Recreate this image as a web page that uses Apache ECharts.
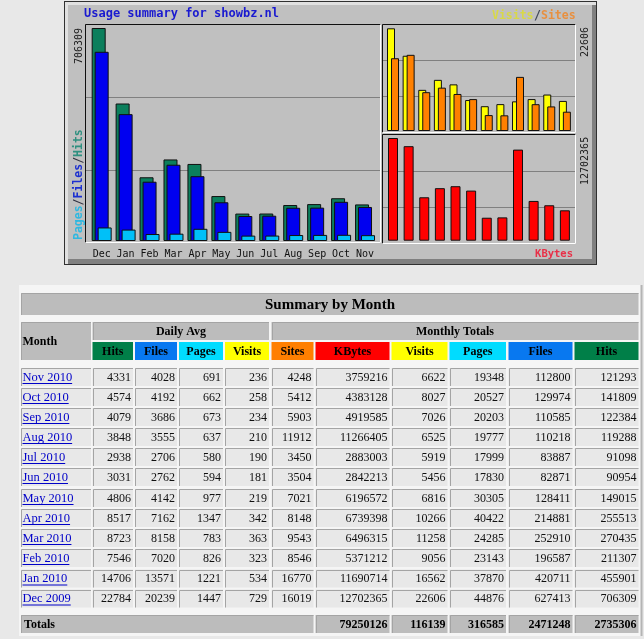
<!DOCTYPE html>
<html>
<head>
<meta charset="utf-8">
<title>Usage summary for showbz.nl</title>
<script src="https://cdn.jsdelivr.net/npm/echarts@6/dist/echarts.min.js"></script>
<style>
html, body { margin: 0; padding: 0; background: #e8e8e8; }
#main { width: 644px; height: 639px; }
</style>
</head>
<body>
<div id="main"></div>
<script>
// table rows, newest first, same order as the summary table
var months = ['Nov 2010', 'Oct 2010', 'Sep 2010', 'Aug 2010', 'Jul 2010', 'Jun 2010', 'May 2010', 'Apr 2010', 'Mar 2010', 'Feb 2010', 'Jan 2010', 'Dec 2009'];
var avgHits = [4331, 4574, 4079, 3848, 2938, 3031, 4806, 8517, 8723, 7546, 14706, 22784];
var avgFiles = [4028, 4192, 3686, 3555, 2706, 2762, 4142, 7162, 8158, 7020, 13571, 20239];
var avgPages = [691, 662, 673, 637, 580, 594, 977, 1347, 783, 826, 1221, 1447];
var avgVisits = [236, 258, 234, 210, 190, 181, 219, 342, 363, 323, 534, 729];
var sites = [4248, 5412, 5903, 11912, 3450, 3504, 7021, 8148, 9543, 8546, 16770, 16019];
var kbytes = [3759216, 4383128, 4919585, 11266405, 2883003, 2842213, 6196572, 6739398, 6496315, 5371212, 11690714, 12702365];
var visits = [6622, 8027, 7026, 6525, 5919, 5456, 6816, 10266, 11258, 9056, 16562, 22606];
var pages = [19348, 20527, 20203, 19777, 17999, 17830, 30305, 40422, 24285, 23143, 37870, 44876];
var files = [112800, 129974, 110585, 110218, 83887, 82871, 128411, 214881, 252910, 196587, 420711, 627413];
var hits = [121293, 141809, 122384, 119288, 91098, 90954, 149015, 255513, 270435, 211307, 455901, 706309];
var totals = [79250126, 116139, 316585, 2471248, 2735306];
var chartMonths = ['Dec', 'Jan', 'Feb', 'Mar', 'Apr', 'May', 'Jun', 'Jul', 'Aug', 'Sep', 'Oct', 'Nov'];

var MONO = '"DejaVu Sans Mono", monospace';
var SERIF = '"Liberation Serif", serif';
var graphics = [];

function rect(x, y, w, h, fill, z) {
    graphics.push({ type: 'rect', z: z || 0, silent: true, shape: { x: x, y: y, width: w, height: h }, style: { fill: fill } });
}
function line(x1, y1, x2, y2, color, width, z) {
    graphics.push({ type: 'line', z: z || 0, silent: true, shape: { x1: x1, y1: y1, x2: x2, y2: y2 }, style: { stroke: color, lineWidth: width || 1 } });
}
function text(str, x, y, font, color, align, z) {
    graphics.push({
        type: 'text', z: z || 1, silent: true, x: x, y: y,
        style: { text: str, font: font, fill: color, align: align || 'left', verticalAlign: 'middle' }
    });
}
// vertical chart text, reads bottom to top
function upText(str, x, y, color) {
    graphics.push({
        type: 'text', z: 5, silent: true, x: x, y: y, rotation: Math.PI / 2,
        style: { text: str, font: '10px ' + MONO, fill: color, align: 'left', verticalAlign: 'middle' }
    });
}
function upRich(x, y) {
    graphics.push({
        type: 'text', z: 5, silent: true, x: x, y: y, rotation: Math.PI / 2,
        style: {
            text: '{p|Pages}{s|/}{f|Files}{s|/}{h|Hits}',
            align: 'left', verticalAlign: 'middle',
            rich: {
                p: { font: 'bold 11.5px ' + MONO, fill: '#30b8e0' },
                s: { font: 'bold 11.5px ' + MONO, fill: '#303040' },
                f: { font: 'bold 11.5px ' + MONO, fill: '#1c30d0' },
                h: { font: 'bold 11.5px ' + MONO, fill: '#2f9080' }
            }
        }
    });
}

// outer picture frame
rect(64, 1, 533, 264, '#303030');
rect(65, 2, 531, 262, '#e0e0e0');
rect(68, 5, 528, 259, '#808080');
rect(68, 5, 524, 254, '#c0c0c0');

text('Usage summary for showbz.nl', 84, 14, 'bold 12px ' + MONO, '#1a1ad0');
text('Visits', 492, 16, 'bold 11.5px ' + MONO, '#d8d848');
text('/', 534, 16, 'bold 11.5px ' + MONO, '#404858');
text('Sites', 541, 16, 'bold 11.5px ' + MONO, '#e89040');
text('KBytes', 573, 254, 'bold 10.5px ' + MONO, '#e83048', 'right');
upText('706309', 79, 64, '#202020');
upRich(79, 240);
upText('22606', 585, 57, '#202020');
upText('12702365', 585, 185, '#202020');

// plot frames, black top/left and white bottom/right
function frame(x1, y1, x2, y2) {
    line(x1, y1, x2, y1, '#101010', 1, 4);
    line(x1, y1, x1, y2, '#101010', 1, 4);
    line(x1, y2, x2, y2, '#ffffff', 1, 4);
    line(x2, y1, x2, y2, '#ffffff', 1, 4);
}
frame(85.5, 24.5, 380.5, 242.5);
frame(382.5, 24.5, 575.5, 132.5);
frame(382.5, 134.5, 575.5, 243.5);

// summary table
var colEdges = [[21, 91], [92.5, 133], [135, 177], [179, 223], [225, 269], [271.5, 313.5], [315.5, 389.5], [391.5, 447.5], [449.5, 506], [508.5, 572.5], [574.5, 638.5]];
var headers = ['Hits', 'Files', 'Pages', 'Visits', 'Sites', 'KBytes', 'Visits', 'Pages', 'Files', 'Hits'];
var headerColors = ['#007f48', '#0878f0', '#00dcff', '#ffff00', '#ff7f00', '#ff0000', '#ffff00', '#00dcff', '#0878f0', '#007f48'];
var rowTops = [368, 388, 408, 428, 448, 468, 489, 509, 529, 549, 569.5, 589.5];
var GRAY = '#bcbcbc', CELL = '#e8e8e8';

function cell(x1, x2, y1, y2, fill) {
    rect(x1, y1, x2 - x1, y2 - y1, fill, 0);
    var px = Math.round(x1) + 0.5, py = Math.round(y1) + 0.5;
    line(px, py, x2, py, '#a4a4a4', 1, 0);
    line(px, py, px, y2, '#a4a4a4', 1, 0);
}

rect(19, 285, 622, 351, '#f5f5f5');
line(641.5, 285, 641.5, 636, '#b4b4b4', 2);
cell(21, 638.5, 293, 315, GRAY);
text('Summary by Month', 330, 305, 'bold 15px ' + SERIF, '#000', 'center');
cell(21, 91, 322, 360, GRAY);
text('Month', 22.5, 342, 'bold 12px ' + SERIF, '#000');
cell(92.5, 269, 322, 340, GRAY);
text('Daily Avg', 181, 332, 'bold 12px ' + SERIF, '#000', 'center');
cell(271.5, 638.5, 322, 340, GRAY);
text('Monthly Totals', 455, 332, 'bold 12px ' + SERIF, '#000', 'center');

headers.forEach(function(h, i) {
    var c = colEdges[i + 1];
    rect(c[0], 342, c[1] - c[0], 18, headerColors[i]);
    text(h, (c[0] + c[1]) / 2, 352, 'bold 12px ' + SERIF, '#000', 'center');
});

var columns = [avgHits, avgFiles, avgPages, avgVisits, sites, kbytes, visits, pages, files, hits];
var measure = document.createElement('canvas').getContext('2d');
measure.font = '12.5px ' + SERIF;

months.forEach(function(m, r) {
    var top = rowTops[r], bottom = top + 18;
    cell(21, 91, top, bottom, CELL);
    text(m, 22.5, top + 9.5, '12.5px ' + SERIF, '#0000c8');
    line(22.5, top + 15.5, 22.5 + measure.measureText(m).width, top + 15.5, '#0000c8', 1, 1);
    columns.forEach(function(col, i) {
        var c = colEdges[i + 1];
        cell(c[0], c[1], top, bottom, CELL);
        text(String(col[r]), c[1] - 2, top + 9.5, '12px ' + SERIF, '#101010', 'right');
    });
});

cell(21, 313.5, 615, 633, GRAY);
text('Totals', 24, 624.5, 'bold 12px ' + SERIF, '#000');
totals.forEach(function(t, i) {
    var c = colEdges[i + 6];
    cell(c[0], c[1], 615, 633, GRAY);
    text(String(t), c[1] - 2, 624.5, 'bold 12px ' + SERIF, '#000', 'right');
});

// chart series run oldest to newest
function oldestFirst(arr) {
    return arr.slice().reverse();
}
function barSeries(name, data, axis, color, width, gap) {
    return {
        name: name, type: 'bar', xAxisIndex: axis, yAxisIndex: axis,
        data: oldestFirst(data), barWidth: width, barGap: gap, z: 3, silent: true,
        itemStyle: { color: color, borderColor: '#101010', borderWidth: 1 }
    };
}
function barXAxis(grid, labels) {
    return {
        type: 'category', gridIndex: grid, data: chartMonths,
        axisLine: { show: false }, axisTick: { show: false },
        axisLabel: { show: labels, interval: 0, margin: 8, color: '#101010', fontFamily: MONO, fontSize: 10 }
    };
}
function barYAxis(grid, max) {
    return { type: 'value', gridIndex: grid, min: 0, max: max, show: false, splitLine: { show: false } };
}
// empty grids that only carry the grey rules behind the bars
function ruleGrid(x1, y1, x2, y2) {
    return { left: x1, top: y1, width: x2 - x1, height: y2 - y1 };
}
function ruleXAxis(grid) {
    return { type: 'value', gridIndex: grid, min: 0, max: 1, show: false };
}
function ruleYAxis(grid) {
    return {
        type: 'value', gridIndex: grid, min: 0, max: 3, interval: 1,
        axisLine: { show: false }, axisTick: { show: false }, axisLabel: { show: false },
        splitLine: { show: true, lineStyle: { color: '#808080', width: 1 } }
    };
}

var chart = echarts.init(document.getElementById('main'));
chart.setOption({
    animation: false,
    backgroundColor: '#e8e8e8',
    textStyle: { fontFamily: SERIF },
    grid: [
        { left: 89.7, top: 28, width: 287.3, height: 213 },
        { left: 385.2, top: 28.3, width: 187.5, height: 102.7 },
        { left: 385.2, top: 138, width: 187.5, height: 102.7 },
        ruleGrid(85.5, 24.5, 380.5, 242.5),
        ruleGrid(382.5, 24.5, 575.5, 132.5),
        ruleGrid(382.5, 134.5, 575.5, 243.5)
    ],
    xAxis: [barXAxis(0, true), barXAxis(1, false), barXAxis(2, false), ruleXAxis(3), ruleXAxis(4), ruleXAxis(5)],
    yAxis: [barYAxis(0, hits[11]), barYAxis(1, visits[11]), barYAxis(2, kbytes[11]), ruleYAxis(3), ruleYAxis(4), ruleYAxis(5)],
    series: [
        barSeries('Hits', hits, 0, '#0b7f5c', 14, '-78.6%'),
        barSeries('Files', files, 0, '#0000f0', 14, '-78.6%'),
        barSeries('Pages', pages, 0, '#00c0f8', 14, '-78.6%'),
        barSeries('Visits', visits, 1, '#ffff00', 8, '-50%'),
        barSeries('Sites', sites, 1, '#ff8000', 8, '-50%'),
        barSeries('KBytes', kbytes, 2, '#ff0000', 10, '0%')
    ],
    graphic: { elements: graphics }
});
</script>
</body>
</html>
